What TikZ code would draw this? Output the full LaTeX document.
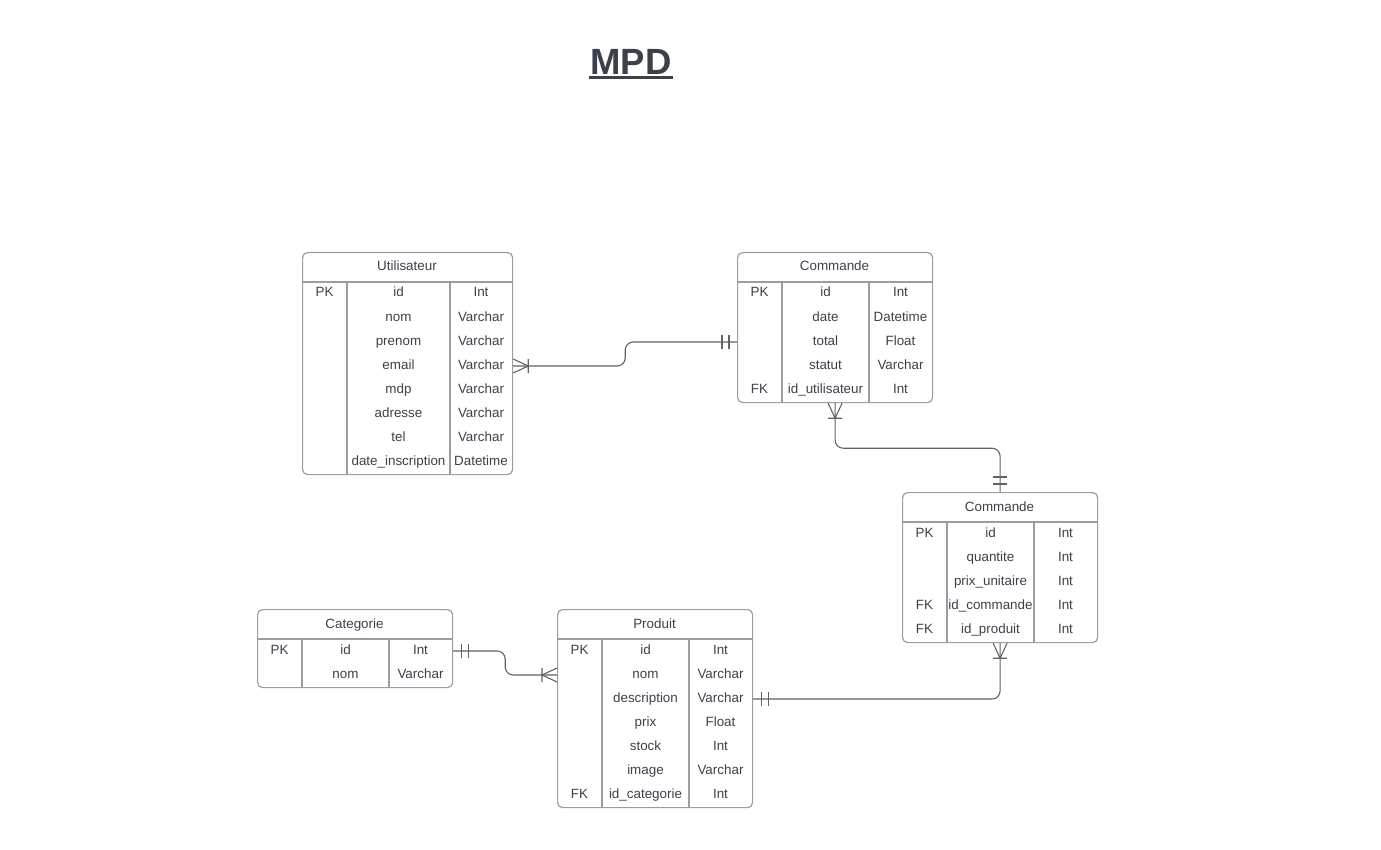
\documentclass[tikz,border=0pt]{standalone}
\usepackage{fontspec}
\setmainfont{Liberation Sans}
\definecolor{txtgray}{HTML}{3A414A}
\definecolor{tblgray}{HTML}{9A9DA1}
\definecolor{relgray}{HTML}{5F6368}
\tikzset{
	tbl/.style={draw=tblgray, line width=1.2pt, rounded corners=5pt, anchor=north west, inner sep=0},
	sep/.style={draw=tblgray, line width=1.2pt},
	cell/.style={text=txtgray, font=\fontsize{13.4}{16}\selectfont, inner sep=0, text height=9pt, text depth=3pt},
	rel/.style={draw=relgray, line width=1.1pt, rounded corners=8pt},
	crowmany/.pic={\draw[relgray, line width=1.1pt] (0,-7) -- (15,0) -- (0,7) (15,-7) -- (15,7);},
	crowone/.pic={\draw[relgray, line width=1.1pt] (8,-7) -- (8,7) (15,-7) -- (15,7);},
}
\begin{document}
\begin{tikzpicture}[x=1pt, y=-1pt]
	\useasboundingbox (0,0) rectangle (1381,850);

	% title
	\node[text=txtgray, font=\fontsize{36.5}{40}\bfseries\selectfont, inner sep=0] (title) at (631,62) {MPD};
	\draw[txtgray, line width=3pt] ([xshift=-1.5pt, yshift=-2.8pt]title.base west) -- ([xshift=1.5pt, yshift=-2.8pt]title.base east);

	% Utilisateur
	\node[tbl, minimum width=210, minimum height=222] (util) at (302,252) {};
	\draw[sep] ([yshift=-30]util.north west) -- ([yshift=-30]util.north east);
	\draw[sep] ([xshift=45, yshift=-30]util.north west) -- ([xshift=45]util.south west);
	\draw[sep] ([xshift=148, yshift=-30]util.north west) -- ([xshift=148]util.south west);
	\node[cell] (util-h) at (407,268) {Utilisateur};
	\node[cell] (util-pk) at (324.5,294) {PK};
	\foreach \f/\t [count=\i] in {id/Int, nom/Varchar, prenom/Varchar, email/Varchar, mdp/Varchar, adresse/Varchar, tel/Varchar, date\_inscription/Datetime}
	{
		\node[cell] (util-f\i) at (398.5,{294+24*(\i-1)}) {\f};
		\node[cell] (util-t\i) at (481,{294+24*(\i-1)}) {\t};
	}

	% Commande
	\node[tbl, minimum width=195, minimum height=150] (cmd) at (737,252) {};
	\draw[sep] ([yshift=-30]cmd.north west) -- ([yshift=-30]cmd.north east);
	\draw[sep] ([xshift=45, yshift=-30]cmd.north west) -- ([xshift=45]cmd.south west);
	\draw[sep] ([xshift=132, yshift=-30]cmd.north west) -- ([xshift=132]cmd.south west);
	\node[cell] (cmd-h) at (834.5,268) {Commande};
	\node[cell] (cmd-pk) at (759.5,294) {PK};
	\node[cell] (cmd-fk) at (759.5,390) {FK};
	\foreach \f/\t [count=\i] in {id/Int, date/Datetime, total/Float, statut/Varchar, id\_utilisateur/Int}
	{
		\node[cell] (cmd-f\i) at (825.5,{294+24*(\i-1)}) {\f};
		\node[cell] (cmd-t\i) at (900.5,{294+24*(\i-1)}) {\t};
	}

	% Commande (ligne)
	\node[tbl, minimum width=195, minimum height=150] (cmdl) at (902,492) {};
	\draw[sep] ([yshift=-30]cmdl.north west) -- ([yshift=-30]cmdl.north east);
	\draw[sep] ([xshift=45, yshift=-30]cmdl.north west) -- ([xshift=45]cmdl.south west);
	\draw[sep] ([xshift=132, yshift=-30]cmdl.north west) -- ([xshift=132]cmdl.south west);
	\node[cell] (cmdl-h) at (999.5,508) {Commande};
	\node[cell] (cmdl-pk) at (924.5,534) {PK};
	\node[cell] (cmdl-fk1) at (924.5,606) {FK};
	\node[cell] (cmdl-fk2) at (924.5,630) {FK};
	\foreach \f/\t [count=\i] in {id/Int, quantite/Int, prix\_unitaire/Int, id\_commande/Int, id\_produit/Int}
	{
		\node[cell] (cmdl-f\i) at (990.5,{534+24*(\i-1)}) {\f};
		\node[cell] (cmdl-t\i) at (1065.5,{534+24*(\i-1)}) {\t};
	}

	% Categorie
	\node[tbl, minimum width=195, minimum height=78] (cat) at (257,609) {};
	\draw[sep] ([yshift=-30]cat.north west) -- ([yshift=-30]cat.north east);
	\draw[sep] ([xshift=45, yshift=-30]cat.north west) -- ([xshift=45]cat.south west);
	\draw[sep] ([xshift=132, yshift=-30]cat.north west) -- ([xshift=132]cat.south west);
	\node[cell] (cat-h) at (354.5,625) {Categorie};
	\node[cell] (cat-pk) at (279.5,651) {PK};
	\foreach \f/\t [count=\i] in {id/Int, nom/Varchar}
	{
		\node[cell] (cat-f\i) at (345.5,{651+24*(\i-1)}) {\f};
		\node[cell] (cat-t\i) at (420.5,{651+24*(\i-1)}) {\t};
	}

	% Produit
	\node[tbl, minimum width=195, minimum height=198] (prod) at (557,609) {};
	\draw[sep] ([yshift=-30]prod.north west) -- ([yshift=-30]prod.north east);
	\draw[sep] ([xshift=45, yshift=-30]prod.north west) -- ([xshift=45]prod.south west);
	\draw[sep] ([xshift=132, yshift=-30]prod.north west) -- ([xshift=132]prod.south west);
	\node[cell] (prod-h) at (654.5,625) {Produit};
	\node[cell] (prod-pk) at (579.5,651) {PK};
	\node[cell] (prod-fk) at (579.5,795) {FK};
	\foreach \f/\t [count=\i] in {id/Int, nom/Varchar, description/Varchar, prix/Float, stock/Int, image/Varchar, id\_categorie/Int}
	{
		\node[cell] (prod-f\i) at (645.5,{651+24*(\i-1)}) {\f};
		\node[cell] (prod-t\i) at (720.5,{651+24*(\i-1)}) {\t};
	}

	% relations
	\draw[rel] (util.east |- util-f4) -- ++(112,0) |- (cmd.west |- cmd-f3);
	\pic at (util.east |- util-f4) {crowmany};
	\pic[rotate=180] at (cmd.west |- cmd-f3) {crowone};

	\draw[rel] (cmd.south) -- ++(0,45) -| (cmdl.north);
	\pic[rotate=-90] at (cmd.south) {crowmany};
	\pic[rotate=90] at (cmdl.north) {crowone};

	\draw[rel] (cat.east |- cat-f1) -- ++(52,0) |- (prod.west |- prod-f2);
	\pic at (cat.east |- cat-f1) {crowone};
	\pic[rotate=180] at (prod.west |- prod-f2) {crowmany};

	\draw[rel] (prod.east |- prod-f3) -| (cmdl.south);
	\pic at (prod.east |- prod-f3) {crowone};
	\pic[rotate=-90] at (cmdl.south) {crowmany};
\end{tikzpicture}
\end{document}
